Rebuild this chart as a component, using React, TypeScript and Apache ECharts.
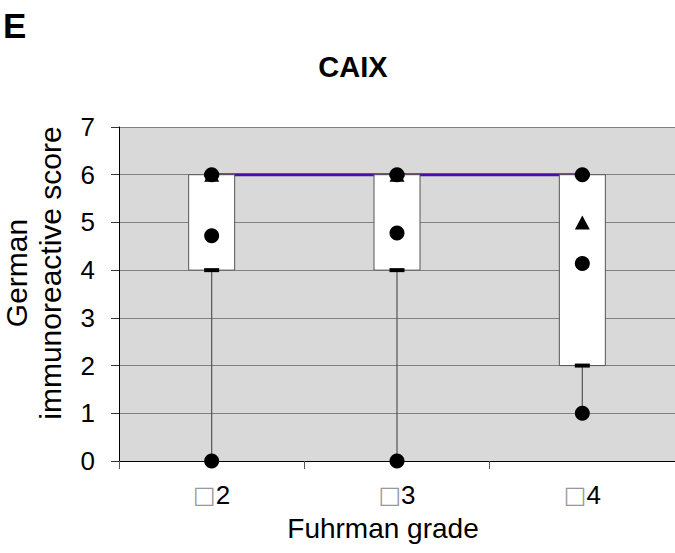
import React, { useEffect, useRef } from "react";
import * as echarts from "echarts";

const categories = ["2", "3", "4"];
const boxLower = [4, 4, 2];
const boxUpper = [6, 6, 6];
const whiskerLow = [0, 0, 1];
const whiskerHigh = [6, 6, 6];
const circlePoints: [number, number][] = [
  [0, 6], [0, 4.72], [0, 0],
  [1, 6], [1, 4.78], [1, 0],
  [2, 6], [2, 4.14], [2, 1],
];
const trianglePoints: [number, number][] = [
  [0, 6], [1, 6], [2, 5],
];
const lineValues = [6, 6, 6];

const FONT = "Liberation Sans, Arial, sans-serif";

export default function App() {
  const ref = useRef<HTMLDivElement>(null);
  useEffect(() => {
    if (!ref.current) return;
    const chart = echarts.init(ref.current, undefined, { renderer: "svg" });
    const boxData = categories.map((_, i) => [i, whiskerLow[i], boxLower[i], boxUpper[i], whiskerHigh[i]]);
    chart.setOption({
      animation: false,
      backgroundColor: "#ffffff",
      graphic: [
        { type: "text", left: 3, top: 8, style: { text: "E", font: `bold 35px ${FONT}`, fill: "#000" } },
        { type: "text", x: 353, y: 67, style: { text: "CAIX", font: `bold 29px ${FONT}`, fill: "#000", align: "center", verticalAlign: "middle" } },
        { type: "text", x: 16, y: 273, rotation: Math.PI / 2, style: { text: "German", font: `30px ${FONT}`, fill: "#000", align: "center", verticalAlign: "middle" } },
        { type: "text", x: 50, y: 273, rotation: Math.PI / 2, style: { text: "immunoreactive score", font: `30px ${FONT}`, fill: "#000", align: "center", verticalAlign: "middle" } },
        { type: "text", x: 383, y: 528, style: { text: "Fuhrman grade", font: `28px ${FONT}`, fill: "#000", align: "center", verticalAlign: "middle" } },
      ],
      grid: { left: 119, top: 127, width: 558, height: 334, show: true, backgroundColor: "#d9d9d9", borderWidth: 0 },
      xAxis: {
        type: "category",
        data: categories,
        boundaryGap: true,
        axisLine: { lineStyle: { color: "#000", width: 1 } },
        axisTick: { show: true, length: 8, lineStyle: { color: "#555" } },
        axisLabel: {
          fontFamily: FONT,
          fontSize: 26,
          lineHeight: 26,
          color: "#000",
          margin: 21,
          formatter: (v: string) => "{b|\u25A1}" + v,
          rich: { b: { fontFamily: "DejaVu Sans", fontSize: 24, lineHeight: 26, color: "#999" } },
        },
      },
      yAxis: {
        type: "value",
        min: 0,
        max: 7,
        interval: 1,
        axisLine: { show: true, lineStyle: { color: "#000", width: 1 } },
        axisTick: { show: true, length: 8, lineStyle: { color: "#333" } },
        axisLabel: { fontFamily: FONT, fontSize: 26, color: "#000", margin: 24, padding: [0, 0, 5, 0] },
        splitLine: { show: true, lineStyle: { color: "#808080", width: 1 } },
      },
      series: [
        {
          type: "line",
          data: lineValues,
          symbol: "none",
          lineStyle: { color: "#4b0fa8", width: 3 },
          z: 1,
        },
        {
          type: "custom",
          data: boxData,
          z: 2,
          renderItem: (params: any, api: any) => {
            const idx = api.value(0);
            const low = api.coord([idx, api.value(1)]);
            const q1 = api.coord([idx, api.value(2)]);
            const q3 = api.coord([idx, api.value(3)]);
            const high = api.coord([idx, api.value(4)]);
            const bw = 46;
            const cx = q1[0];
            return {
              type: "group",
              children: [
                { type: "line", shape: { x1: cx, y1: q1[1], x2: cx, y2: low[1] }, style: { stroke: "#555", lineWidth: 1.2 } },
                { type: "line", shape: { x1: cx, y1: q3[1], x2: cx, y2: high[1] }, style: { stroke: "#555", lineWidth: 1.2 } },
                { type: "rect", shape: { x: cx - bw / 2, y: q3[1], width: bw, height: q1[1] - q3[1] }, style: { fill: "#ffffff", stroke: "#555", lineWidth: 1 } },
                { type: "rect", shape: { x: cx - 7.5, y: q1[1] - 2, width: 15, height: 4 }, style: { fill: "#000" } },
                { type: "rect", shape: { x: cx - 7.5, y: q3[1] - 2, width: 15, height: 4 }, style: { fill: "#000" } },
              ],
            };
          },
        },
        {
          type: "scatter",
          data: trianglePoints,
          symbol: "triangle",
          symbolSize: [15, 14],
          itemStyle: { color: "#000", opacity: 1 },
          z: 3,
        },
        {
          type: "scatter",
          data: circlePoints,
          symbol: "circle",
          symbolSize: 15,
          itemStyle: { color: "#000", opacity: 1 },
          z: 4,
        },
      ],
    });
    return () => chart.dispose();
  }, []);
  return <div ref={ref} style={{ width: 675, height: 553, position: "absolute", left: 0, top: 0 }} />;
}
